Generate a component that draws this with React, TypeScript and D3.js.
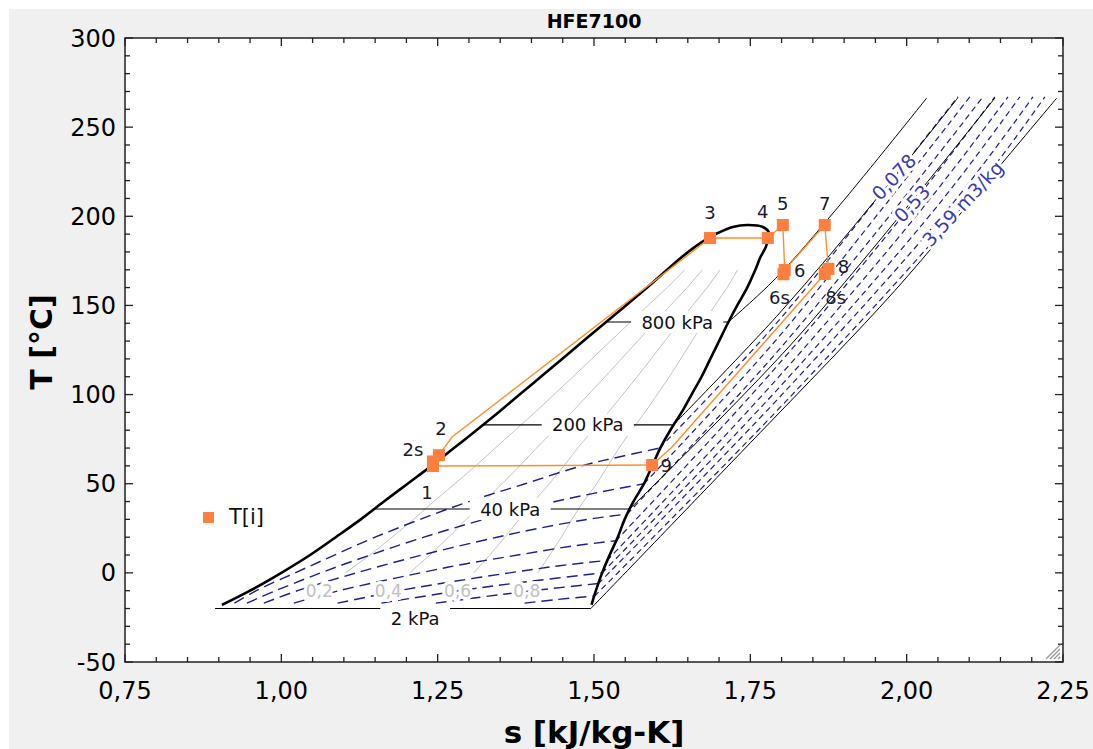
import React from 'react';
import * as d3 from 'd3';

// ---------- DATA ----------
const chartTitle = 'HFE7100';
const xTickValues = [0.75, 1.0, 1.25, 1.5, 1.75, 2.0, 2.25];
const xTickLabels = ['0,75', '1,00', '1,25', '1,50', '1,75', '2,00', '2,25'];
const yTickValues = [-50, 0, 50, 100, 150, 200, 250, 300];
const yTickLabels = ['-50', '0', '50', '100', '150', '200', '250', '300'];

// saturation dome (T in °C, s in kJ/kg-K)
const satT = [-18, -10, 0, 10, 20, 30, 40, 50, 60, 70, 80, 90, 100, 110, 120, 130, 140, 150, 160, 170, 177, 183, 188];
const satSL = [0.905, 0.950, 1.000, 1.046, 1.087, 1.127, 1.164, 1.202, 1.240, 1.276, 1.312, 1.347, 1.381, 1.415, 1.449, 1.483, 1.517, 1.551, 1.585, 1.617, 1.640, 1.662, 1.684];
const satSV = [1.496, 1.503, 1.513, 1.525, 1.538, 1.549, 1.563, 1.580, 1.593, 1.606, 1.622, 1.640, 1.656, 1.672, 1.686, 1.700, 1.714, 1.729, 1.745, 1.758, 1.766, 1.775, 1.778];
const domeTopS = [1.698, 1.722, 1.745, 1.770, 1.780];
const domeTopT = [190.6, 194.0, 195.1, 194.0, 190.6];

// quality lines
const qualities = [0.2, 0.4, 0.6, 0.8];
const qualityLabels = ['0,2', '0,4', '0,6', '0,8'];

// isobars
const isobarNames = ['2 kPa', '40 kPa', '200 kPa', '800 kPa'];
const isobarTsat = [-20, 35.8, 83, 140.7];
const isobarSL = [0.894, 1.149, 1.322, 1.519];
const isobarSV = [1.495, 1.557, 1.627, 1.715];
const isobarLabelS = [1.214, 1.366, 1.490, 1.633];
const isobar2kPaSup = [[1.495, -20], [1.72, 62], [1.957, 149], [2.042, 183], [2.146, 227], [2.240, 266.3]];
const isobar40kPaSup = [[1.557, 35.8], [1.82, 130], [2.141, 266.3]];
const isobar200kPaSup = [[1.627, 83], [1.797, 145.8], [1.953, 210.3], [2.082, 266.5]];
const isobar800kPaSup = [[1.715, 140.7], [1.79, 165], [1.89, 205], [2.032, 266.3]];

// isochores: two-phase part and superheated part ([s, T])
const isoV1Dome = [[0.925, -17], [0.960, -10], [1.022, 0], [1.085, 10], [1.150, 20], [1.222, 30], [1.300, 40], [1.390, 50], [1.480, 60], [1.540, 65], [1.605, 70]];
const isoV1Vap = [[1.605, 70], [1.788, 138.5], [1.946, 207], [2.082, 267]];
const isoV2Dome = [[0.945, -17], [0.991, -10], [1.063, 0], [1.142, 10], [1.228, 20], [1.324, 30], [1.438, 40], [1.505, 45], [1.580, 50]];
const isoV2Vap = [[1.580, 50], [1.786, 128.5], [1.967, 207], [2.101, 267]];
const isoV3Dome = [[0.972, -17], [1.026, -10], [1.120, 0], [1.225, 10], [1.345, 20], [1.412, 25], [1.490, 30], [1.553, 33]];
const isoV3Vap = [[1.553, 33], [1.783, 120], [1.988, 207], [2.122, 267]];
const isoV4Dome = [[1.020, -17], [1.092, -10], [1.222, 0], [1.294, 5], [1.378, 10], [1.465, 15], [1.535, 18]];
const isoV4Vap = [[1.535, 18], [1.784, 112.5], [2.009, 207], [2.141, 267]];
const isoV5Dome = [[1.090, -17], [1.188, -10], [1.272, -5], [1.365, 0], [1.445, 4], [1.521, 7]];
const isoV5Vap = [[1.521, 7], [1.788, 107], [2.031, 207], [2.162, 267]];
const isoV6Dome = [[1.160, -17], [1.285, -10], [1.392, -5], [1.513, 0]];
const isoV6Vap = [[1.513, 0], [1.795, 103.5], [2.052, 207], [2.181, 267]];
const isoV7Dome = [[1.247, -17], [1.355, -12], [1.427, -9], [1.507, -6]];
const isoV7Vap = [[1.507, -6], [1.802, 100.5], [2.073, 207], [2.202, 267]];
const isoV8Dome = [[1.389, -17], [1.439, -15], [1.501, -13]];
const isoV8Vap = [[1.501, -13], [1.809, 97], [2.093, 207], [2.221, 267]];
const isochoreLabels = ['0,078', '0,53', '3,59 m3/kg'];
const isochoreLabelS = [1.980, 2.009, 2.090];
const isochoreLabelT = [222, 207, 207];

// cycle states
const stateNames = ['1', '2s', '2', '3', '4', '5', '6s', '6', '7', '8', '8s', '9'];
const stateS = [1.2425, 1.2425, 1.252, 1.6855, 1.778, 1.802, 1.803, 1.805, 1.869, 1.875, 1.869, 1.593];
const stateT = [59.9, 62.5, 66.0, 187.8, 187.8, 195.1, 167.5, 169.9, 195.1, 170.5, 167.6, 60.5];
const cycleMain = [[1.593, 60.5], [1.2425, 59.9], [1.252, 66.0], [1.273, 76.2], [1.6855, 187.8], [1.778, 187.8], [1.802, 195.1], [1.805, 169.9], [1.869, 195.1], [1.875, 170.5]];
const cycleReturn = [[1.869, 167.6], [1.6248, 70.6], [1.593, 60.5]];
const legendLabel = 'T[i]';

// ---------- STYLE ----------
const FONT = 'DejaVu Sans, Verdana, sans-serif';
const ORANGE_M = '#ff7f3f';
const ORANGE_L = '#ff8f2a';
const NAVY = '#1e1e8c';
const labelOffsets: Record<string, [number, number]> = {
  '1': [-6, 26], '2s': [-20, -12], '2': [2, -27], '3': [0, -26], '4': [-5, -27], '5': [0, -22],
  '6': [15, 1], '6s': [-4, 23], '7': [0, -22], '8': [15, -2], '8s': [11, 23], '9': [14, 1],
};

export default function App() {
  const L = 125, R = 1063, T = 38, B = 662;
  const x = d3.scaleLinear().domain([0.75, 2.25]).range([L, R]);
  const y = d3.scaleLinear().domain([-50, 300]).range([B, T]);
  const smooth = d3.line<number[]>().x(d => x(d[0])).y(d => y(d[1])).curve(d3.curveCatmullRom.alpha(0.5));
  const straight = d3.line<number[]>().x(d => x(d[0])).y(d => y(d[1]));

  const liquid = satT.map((t, i) => [satSL[i], t]);
  const vapor = satT.map((t, i) => [satSV[i], t]).reverse();
  const top = domeTopT.map((t, i) => [domeTopS[i], t]);
  const dome = [...liquid, ...top, ...vapor];

  const qLines = qualities.map(q =>
    satT.map((t, i) => [satSL[i] + q * (satSV[i] - satSL[i]), t]).filter(d => d[1] >= 0 && d[1] <= 170));
  const qLabelPos = qualities.map(q => {
    const i = satT.indexOf(-10);
    return [satSL[i] + q * (satSV[i] - satSL[i]), -10];
  });

  const isoDome = [isoV1Dome, isoV2Dome, isoV3Dome, isoV4Dome, isoV5Dome, isoV6Dome, isoV7Dome, isoV8Dome];
  const isoVap = [isoV1Vap, isoV2Vap, isoV3Vap, isoV4Vap, isoV5Vap, isoV6Vap, isoV7Vap, isoV8Vap];
  const isoSup = [isobar2kPaSup, isobar40kPaSup, isobar200kPaSup, isobar800kPaSup];

  const xMinor = d3.range(0, 31).map(i => 0.75 + i * 0.05);
  const yMinor = d3.range(0, 36).map(i => -50 + i * 10);

  const angle = -47;

  return (
    <svg width={1093} height={749} style={{ position: 'absolute', left: 0, top: 0 }} fontFamily={FONT}>
      <rect x={0} y={0} width={1093} height={749} fill="#ffffff" />
      <rect x={9} y={9} width={1084} height={740} fill="#f0f0f0" />
      <rect x={L} y={T} width={R - L} height={B - T} fill="#ffffff" />

      {/* quality lines */}
      {qLines.map((pts, i) => (
        <path key={'q' + i} d={straight(pts) || ''} fill="none" stroke="#c4c4c4" strokeWidth={1} />
      ))}

      {/* isochores */}
      {isoDome.map((pts, i) => (
        <path key={'vd' + i} d={smooth(pts) || ''} fill="none" stroke={NAVY} strokeWidth={1.4} strokeDasharray="11 6" />
      ))}
      {isoVap.map((pts, i) => (
        <path key={'vv' + i} d={smooth(pts) || ''} fill="none" stroke={NAVY} strokeWidth={1.2} strokeDasharray="6 4" />
      ))}

      {/* quality labels (white knock-out, then text) */}
      {qLabelPos.map((p, i) => (
        <g key={'ql' + i}>
          <text x={x(p[0])} y={y(p[1]) + 6} fontSize={17} fill="#fff" textAnchor="middle"
            stroke="#fff" strokeWidth={6} strokeLinejoin="round">{qualityLabels[i]}</text>
          <text x={x(p[0])} y={y(p[1]) + 6} fontSize={17} fill="#c0c0c0" textAnchor="middle">{qualityLabels[i]}</text>
        </g>
      ))}

      {/* isobars */}
      {isobarNames.map((n, i) => (
        <path key={'ph' + i} d={straight([[isobarSL[i], isobarTsat[i]], [isobarSV[i], isobarTsat[i]]]) || ''}
          fill="none" stroke="#000" strokeWidth={1.1} />
      ))}
      {isoSup.map((pts, i) => (
        <path key={'ps' + i} d={smooth(pts) || ''} fill="none" stroke="#000" strokeWidth={1} />
      ))}
      {isobarNames.map((n, i) => {
        const cx = x(isobarLabelS[i]);
        const cy = y(isobarTsat[i]) + (i === 0 ? 10 : 0);
        const w = n.length * 0.62 * 18 + 14;
        return (
          <g key={'pl' + i}>
            <rect x={cx - w / 2} y={cy - 11} width={w} height={22} fill="#fff" />
            <text x={cx} y={cy + 6.5} fontSize={18} textAnchor="middle" fill="#111">{n}</text>
          </g>
        );
      })}

      {/* isochore labels */}
      {isochoreLabels.map((t, i) => {
        const tr = `translate(${x(isochoreLabelS[i])},${y(isochoreLabelT[i])}) rotate(${angle}) translate(0,6.5)`;
        return (
          <g key={'vl' + i}>
            <text x={0} y={0} fontSize={19} fill="#fff" stroke="#fff" strokeWidth={6} strokeLinejoin="round"
              textAnchor="middle" transform={tr}>{t}</text>
            <text x={0} y={0} fontSize={19} fill="#3a3ab4" textAnchor="middle" transform={tr}>{t}</text>
          </g>
        );
      })}

      {/* saturation dome */}
      <path d={smooth(dome) || ''} fill="none" stroke="#000" strokeWidth={2.6} />

      {/* cycle */}
      <path d={straight(cycleMain) || ''} fill="none" stroke={ORANGE_L} strokeWidth={1.4} />
      <path d={straight(cycleReturn) || ''} fill="none" stroke={ORANGE_L} strokeWidth={1.4} />
      {stateNames.map((n, i) => (
        <rect key={'m' + i} x={x(stateS[i]) - 6} y={y(stateT[i]) - 6} width={12} height={12} fill={ORANGE_M} />
      ))}
      {stateNames.map((n, i) => {
        const o = labelOffsets[n];
        return (
          <text key={'ml' + i} x={x(stateS[i]) + o[0]} y={y(stateT[i]) + o[1] + 6.5} fontSize={18}
            textAnchor="middle" fill="#1a1a2a">{n}</text>
        );
      })}

      {/* legend */}
      <rect x={203} y={512} width={11} height={11} fill={ORANGE_M} />
      <text x={229} y={524} fontSize={21} fill="#111">{legendLabel}</text>

      {/* frame + ticks */}
      <rect x={L} y={T} width={R - L} height={B - T} fill="none" stroke="#222" strokeWidth={1.5} />
      {xMinor.map((v, i) => {
        const major = i % 5 === 0;
        const len = major ? 8 : 5;
        return (
          <g key={'xt' + i}>
            <line x1={x(v)} x2={x(v)} y1={B} y2={B - len} stroke="#222" strokeWidth={1.3} />
            <line x1={x(v)} x2={x(v)} y1={T} y2={T + len} stroke="#222" strokeWidth={1.3} />
          </g>
        );
      })}
      {yMinor.map((v, i) => {
        const major = i % 5 === 0;
        const len = major ? 8 : 5;
        return (
          <g key={'yt' + i}>
            <line x1={L} x2={L + len} y1={y(v)} y2={y(v)} stroke="#222" strokeWidth={1.3} />
            <line x1={R} x2={R - len} y1={y(v)} y2={y(v)} stroke="#222" strokeWidth={1.3} />
          </g>
        );
      })}
      {xTickValues.map((v, i) => (
        <text key={'xl' + i} x={x(v)} y={699} fontSize={24} textAnchor="middle" fill="#000">{xTickLabels[i]}</text>
      ))}
      {yTickValues.map((v, i) => (
        <text key={'yl' + i} x={116} y={y(v) + 8.5} fontSize={24} textAnchor="end" fill="#000">{yTickLabels[i]}</text>
      ))}

      {/* resize grip */}
      {[0, 1, 2, 3].map(k => (
        <line key={'g' + k} x1={1046 + k * 4} y1={659} x2={1060} y2={645 + k * 4} stroke="#9a9a9a" strokeWidth={1.2} />
      ))}

      {/* titles */}
      <text x={(L + R) / 2} y={28} fontSize={19} fontWeight="bold" textAnchor="middle" fill="#000">{chartTitle}</text>
      <text x={(L + R) / 2} y={743} fontSize={31} fontWeight="bold" textAnchor="middle" fill="#000">s [kJ/kg-K]</text>
      <text transform={`translate(52,342) rotate(-90)`} fontSize={30} fontWeight="bold" textAnchor="middle" fill="#000">T [°C]</text>
    </svg>
  );
}
